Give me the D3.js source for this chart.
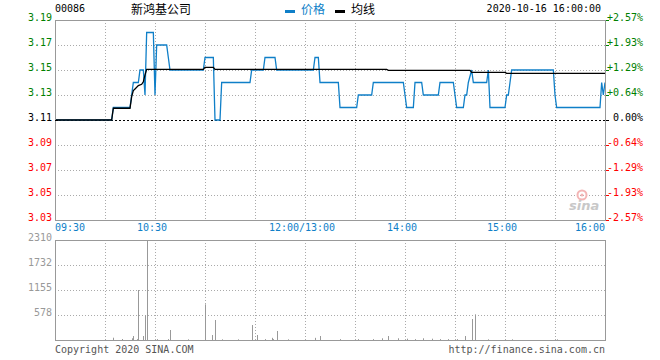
<!DOCTYPE html>
<html><head><meta charset="utf-8">
<script src="https://cdn.jsdelivr.net/npm/d3@7"></script>
<style>
body{margin:0;background:#fff}
svg{display:block}
text{font-family:"DejaVu Sans Mono","Liberation Mono",monospace;font-size:10px}
</style>
</head><body>
<svg id="c" width="660" height="360"></svg>
<script>
const stockCode = "00086";
const stockName = "新鸿基公司";
const stamp = "2020-10-16 16:00:00";
const legendNames = ["价格", "均线"];
const prevClose = 3.11;
const priceTicks = [3.19, 3.17, 3.15, 3.13, 3.11, 3.09, 3.07, 3.05, 3.03];
const pctTicks = ["+2.57%", "+1.93%", "+1.29%", "+0.64%", "0.00%", "-0.64%", "-1.29%", "-1.93%", "-2.57%"];
const timeTicks = ["09:30", "10:30", "12:00/13:00", "14:00", "15:00", "16:00"];
const volTicks = [2310, 1732, 1155, 578];
const volMax = 2310;

const priceTimes = ["09:30","10:04","10:05","10:15","10:16","10:17","10:20","10:21","10:23","10:24","10:25","10:29","10:30","10:31","10:37","10:38","10:39","10:59","11:00","11:05","11:06","11:09","11:10","11:27","11:28","11:35","11:36","11:42","11:43","13:05","13:06","13:08","13:09","13:20","13:21","13:31","13:32","13:40","13:41","13:59","14:00","14:01","14:05","14:06","14:10","14:11","14:20","14:21","14:29","14:30","14:31","14:35","14:36","14:37","14:38","14:40","14:41","14:49","14:50","14:51","15:00","15:01","15:02","15:03","15:04","15:29","15:30","15:31","15:57","15:58","15:59","16:00"];
const priceValues = [3.11,3.11,3.12,3.12,3.13,3.14,3.14,3.15,3.15,3.13,3.18,3.18,3.13,3.17,3.17,3.16,3.15,3.15,3.16,3.16,3.11,3.11,3.14,3.14,3.15,3.15,3.16,3.16,3.15,3.15,3.16,3.16,3.14,3.14,3.12,3.12,3.13,3.13,3.14,3.14,3.13,3.12,3.12,3.14,3.14,3.13,3.13,3.14,3.14,3.13,3.12,3.12,3.13,3.13,3.14,3.15,3.14,3.14,3.15,3.12,3.12,3.13,3.13,3.14,3.15,3.15,3.13,3.12,3.12,3.14,3.13,3.14];

const avgTimes = ["09:30","10:04","10:05","10:15","10:16","10:17","10:18","10:20","10:22","10:23","10:24","10:25","10:59","11:00","11:05","11:06","13:49","13:50","14:39","14:40","15:00","15:01","16:00"];
const avgValues = [3.11,3.11,3.1194,3.1194,3.1287,3.1335,3.1348,3.1375,3.1386,3.1406,3.146,3.1505,3.1505,3.1521,3.1521,3.1505,3.1505,3.1497,3.1497,3.1481,3.1481,3.1473,3.1473];

const volTimes = ["10:05","10:10","10:16","10:17","10:19","10:20","10:23","10:24","10:25","10:31","10:38","10:39","10:50","11:00","11:04","11:06","11:10","11:20","11:28","11:31","11:36","11:40","11:41","11:43","11:50","13:06","13:09","13:21","13:32","13:41","13:46","13:50","13:56","14:01","14:06","14:11","14:16","14:21","14:26","14:31","14:36","14:40","14:42","14:50","15:04","15:31","16:00"];
const volValues = [53,23,40,92,20,1155,92,570,2310,20,20,231,15,824,115,462,15,15,346,115,20,50,20,208,15,50,92,20,20,20,40,92,40,30,20,40,30,20,20,20,92,485,593,15,15,15,308];

function idx(t) {
  const [h, m] = t.split("/")[0].split(":").map(Number);
  const mins = h * 60 + m;
  return mins <= 720 ? mins - 570 : mins - 780 + 150;
}

const svg = d3.select("#c");
const L = 55, R = 605, T = 20, B = 220, VT = 240, VB = 340;
const x = d3.scaleLinear().domain([0, 330]).range([L, R]);
const y = d3.scaleLinear().domain([3.03, 3.19]).range([B, T]);
const yv = d3.scaleLinear().domain([0, volMax]).range([VB, VT]);

const green = "#008000", red = "#ff0000", blue = "#0f7fc8", grey = "#999";
const colorOf = p => p > prevClose + 1e-9 ? green : (p < prevClose - 1e-9 ? red : "#000");

const grid = svg.append("g");
const vgrid = d3.range(30, 330, 30);
grid.selectAll(".vg").data(vgrid).join("line")
  .attr("x1", d => Math.round(x(d)) + 0.5).attr("x2", d => Math.round(x(d)) + 0.5)
  .attr("y1", T).attr("y2", B).attr("stroke", "#aaa").attr("stroke-dasharray", "1,2");
grid.selectAll(".hg").data(priceTicks.filter(p => p !== 3.19 && p !== 3.03 && p !== prevClose)).join("line")
  .attr("x1", L).attr("x2", R).attr("y1", d => Math.round(y(d)) + 0.5).attr("y2", d => Math.round(y(d)) + 0.5)
  .attr("stroke", "#aaa").attr("stroke-dasharray", "1,2");
grid.selectAll(".vvg").data(vgrid).join("line")
  .attr("x1", d => Math.round(x(d)) + 0.5).attr("x2", d => Math.round(x(d)) + 0.5)
  .attr("y1", VT).attr("y2", VB).attr("stroke", "#aaa").attr("stroke-dasharray", "1,2");
grid.selectAll(".vhg").data(volTicks.filter(v => v !== volMax)).join("line")
  .attr("x1", L).attr("x2", R).attr("y1", d => Math.round(yv(d)) + 0.5).attr("y2", d => Math.round(yv(d)) + 0.5)
  .attr("stroke", "#aaa").attr("stroke-dasharray", "1,2");

// watermark
const wm = svg.append("g");
wm.append("circle").attr("cx", 582).attr("cy", 195).attr("r", 4.5).attr("fill", "none").attr("stroke", "#f3b5b5").attr("stroke-width", 2);
wm.append("circle").attr("cx", 582).attr("cy", 195).attr("r", 1.5).attr("fill", "#f3b5b5");
wm.append("text").attr("x", 569).attr("y", 210).text("sina")
  .style("font-family", "DejaVu Sans").style("font-size", "13px").style("font-weight", "bold").style("font-style", "italic").attr("fill", "#c8c8c8");

// volume bars
svg.append("g").selectAll("line").data(volTimes.map((t, i) => [idx(t), volValues[i]])).join("line")
  .attr("x1", d => Math.round(x(d[0])) + 0.5).attr("x2", d => Math.round(x(d[0])) + 0.5)
  .attr("y1", VB).attr("y2", d => yv(d[1])).attr("stroke", grey).attr("stroke-width", 1);

// prev close dotted line
svg.append("line").attr("x1", L).attr("x2", R).attr("y1", Math.round(y(prevClose)) + 0.5).attr("y2", Math.round(y(prevClose)) + 0.5)
  .attr("stroke", "#000").attr("stroke-dasharray", "2,2");

const line = d3.line().x(d => x(d[0])).y(d => y(d[1]));
svg.append("path").datum(priceTimes.map((t, i) => [idx(t), priceValues[i]]))
  .attr("d", line).attr("fill", "none").attr("stroke", blue).attr("stroke-width", 1.3);
svg.append("path").datum(avgTimes.map((t, i) => [idx(t), avgValues[i]]))
  .attr("d", line).attr("fill", "none").attr("stroke", "#000").attr("stroke-width", 1.3);

svg.append("rect").attr("x", L + 0.5).attr("y", T + 0.5).attr("width", R - L).attr("height", B - T)
  .attr("fill", "none").attr("stroke", grey);
svg.append("rect").attr("x", L + 0.5).attr("y", VT + 0.5).attr("width", R - L).attr("height", VB - VT)
  .attr("fill", "none").attr("stroke", grey);

svg.append("g").selectAll("line").data(priceTicks).join("line")
  .attr("x1", R + 1).attr("x2", R + 4).attr("y1", d => Math.round(y(d)) + 0.5).attr("y2", d => Math.round(y(d)) + 0.5)
  .attr("stroke", d => colorOf(d));
svg.append("line").attr("x1", L).attr("x2", L + 3).attr("y1", Math.round(y(prevClose)) + 0.5).attr("y2", Math.round(y(prevClose)) + 0.5).attr("stroke", "#000");

svg.append("g").selectAll("text").data(priceTicks).join("text")
  .attr("x", 52).attr("y", d => y(d) + 1).attr("text-anchor", "end").attr("fill", d => colorOf(d))
  .text(d => d.toFixed(2));
svg.append("g").selectAll("text").data(priceTicks).join("text")
  .attr("x", 643).attr("y", d => y(d) + 1).attr("text-anchor", "end").attr("fill", d => colorOf(d))
  .text((d, i) => pctTicks[i]);
svg.append("g").selectAll("text").data(timeTicks).join("text")
  .attr("x", (d, i) => i === 0 ? L : (i === timeTicks.length - 1 ? R : x(idx(d)) - 3))
  .attr("y", 231)
  .attr("text-anchor", (d, i) => i === 0 ? "start" : (i === timeTicks.length - 1 ? "end" : "middle"))
  .attr("fill", blue).text(d => d);
svg.append("g").selectAll("text").data(volTicks).join("text")
  .attr("x", 52).attr("y", d => yv(d) + 1).attr("text-anchor", "end").attr("fill", grey).text(d => d);

svg.append("text").attr("x", 55).attr("y", 12).attr("fill", "#000").text(stockCode);
svg.append("text").attr("x", 131).attr("y", 14).attr("fill", "#000")
  .style("font-family", "'Noto Sans CJK SC'").style("font-size", "12px").text(stockName);
svg.append("rect").attr("x", 285).attr("y", 10).attr("width", 10).attr("height", 3).attr("fill", blue);
svg.append("text").attr("x", 301).attr("y", 14).attr("fill", blue)
  .style("font-family", "'Noto Sans CJK SC'").style("font-size", "12px").text(legendNames[0]);
svg.append("rect").attr("x", 335).attr("y", 10).attr("width", 10).attr("height", 3).attr("fill", "#000");
svg.append("text").attr("x", 351).attr("y", 14).attr("fill", "#000")
  .style("font-family", "'Noto Sans CJK SC'").style("font-size", "12px").text(legendNames[1]);
svg.append("text").attr("x", 601).attr("y", 12).attr("text-anchor", "end").attr("fill", "#000").text(stamp);

svg.append("text").attr("x", 55).attr("y", 353).attr("fill", "#555").text("Copyright 2020 SINA.COM");
svg.append("text").attr("x", 605).attr("y", 353).attr("text-anchor", "end").attr("fill", "#555").text("http://finance.sina.com.cn");
</script>
</body></html>
